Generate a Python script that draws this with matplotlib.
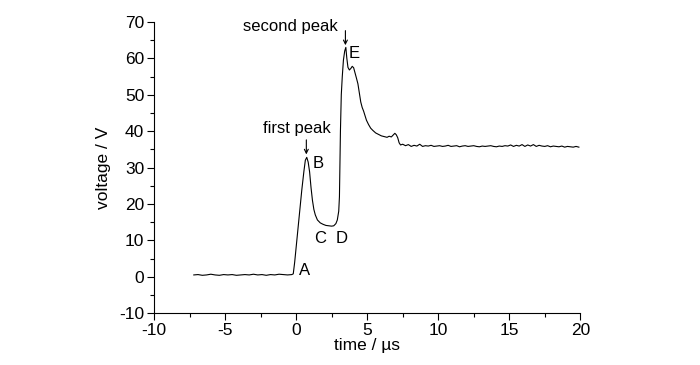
import matplotlib
matplotlib.use("Agg")
import matplotlib.pyplot as plt
from matplotlib.ticker import MultipleLocator

plt.rcParams['font.family'] = ['Liberation Sans', 'DejaVu Sans']
plt.rcParams['axes.unicode_minus'] = False

# time (µs) and voltage (V)
time_us = [-7.2, -6.9, -6.6, -6.3, -6.0, -5.7, -5.4, -5.1, -4.8, -4.5, -4.2, -3.9,
           -3.6, -3.3, -3.0, -2.7, -2.4, -2.1, -1.8, -1.5, -1.2, -0.9, -0.6, -0.3,
           -0.2, -0.1, 0.05, 0.2, 0.4, 0.55, 0.65, 0.75, 0.85, 0.95, 1.05, 1.15,
           1.25, 1.35, 1.5, 1.7, 1.9, 2.1, 2.3, 2.5, 2.65, 2.8, 2.9, 3.0, 3.05,
           3.08, 3.12, 3.18, 3.25, 3.33, 3.42, 3.5, 3.57, 3.65, 3.75, 3.85, 3.95,
           4.05, 4.15, 4.25, 4.35, 4.45, 4.55, 4.65, 4.75, 4.85, 4.95, 5.1, 5.25,
           5.4, 5.6, 5.8, 6.0, 6.2, 6.4, 6.55, 6.7, 6.85, 6.95, 7.05, 7.15, 7.25,
           7.35, 7.5, 7.7, 7.9, 8.1, 8.3, 8.5, 8.7, 8.9, 9.1, 9.3, 9.5, 9.7, 9.9,
           10.1, 10.3, 10.5, 10.7, 10.9, 11.1, 11.3, 11.5, 11.7, 11.9, 12.1, 12.3,
           12.5, 12.7, 12.9, 13.1, 13.3, 13.5, 13.7, 13.9, 14.1, 14.3, 14.5, 14.7,
           14.9, 15.1, 15.3, 15.5, 15.7, 15.9, 16.1, 16.3, 16.5, 16.7, 16.9, 17.1,
           17.3, 17.5, 17.7, 17.9, 18.1, 18.3, 18.5, 18.7, 18.9, 19.1, 19.3, 19.5,
           19.7, 19.9]
voltage_v = [0.5, 0.6, 0.4, 0.5, 0.7, 0.5, 0.4, 0.6, 0.5, 0.6, 0.4, 0.5,
             0.6, 0.5, 0.7, 0.5, 0.6, 0.4, 0.6, 0.5, 0.7, 0.6, 0.5, 0.6,
             0.8, 4.0, 10.0, 16.0, 23.8, 29.0, 32.0, 32.8, 31.5, 28.8, 24.5, 21.0,
             18.5, 17.0, 15.6, 14.8, 14.4, 14.1, 14.0, 13.9, 14.0, 14.6, 15.6, 18.0, 22.0,
             30.0, 40.0, 50.0, 55.0, 59.5, 62.0, 63.0, 60.0, 57.5, 56.8, 57.2, 57.8,
             57.4, 56.0, 54.5, 53.0, 50.5, 48.0, 46.5, 45.5, 44.2, 43.0, 41.8, 40.8,
             40.2, 39.5, 39.1, 38.7, 38.5, 38.3, 38.6, 38.4, 39.0, 39.4, 39.0, 38.2, 36.8,
             36.2, 36.4, 36.0, 36.3, 35.8, 36.1, 35.9, 36.4, 35.8, 36.0, 35.9, 36.1, 35.8, 35.9,
             36.0, 35.8, 35.9, 36.1, 35.8, 35.9, 36.0, 35.7, 35.9, 36.0, 35.8, 35.9,
             36.0, 35.8, 35.7, 35.9, 35.8, 35.9, 36.0, 35.8, 35.7, 35.9, 35.8, 36.0,
             35.9, 36.2, 35.8, 36.1, 35.9, 36.3, 35.8, 36.2, 35.9, 36.3, 35.8, 36.1,
             35.9, 35.8, 36.0, 35.7, 35.9, 35.8, 35.7, 35.9, 35.6, 35.8, 35.7, 35.6,
             35.8, 35.6]

x_ticks = [-10, -5, 0, 5, 10, 15, 20]
y_ticks = [-10, 0, 10, 20, 30, 40, 50, 60, 70]

fig = plt.figure(figsize=(7.0, 3.65), dpi=100)
ax = fig.add_axes([0.22, 0.142, 0.609, 0.798])
ax.plot(time_us, voltage_v, color='black', lw=0.8)

ax.set_xlim(-10, 20)
ax.set_ylim(-10, 70)
ax.set_xticks(x_ticks)
ax.set_yticks(y_ticks)
ax.xaxis.set_minor_locator(MultipleLocator(2.5))
ax.yaxis.set_minor_locator(MultipleLocator(5))
ax.tick_params(which='major', direction='out', length=5, width=0.8, labelsize=12.5, pad=2)
ax.tick_params(which='minor', direction='out', length=3, width=0.8)
for s in ['top', 'right']:
    ax.spines[s].set_visible(False)
for s in ['left', 'bottom']:
    ax.spines[s].set_linewidth(0.8)

ax.set_xlabel('time / µs', fontsize=12.5, labelpad=0)
ax.set_ylabel('voltage / V', fontsize=12.5, labelpad=6)

fs = 12
arrow = dict(arrowstyle='->', lw=0.8, color='black', shrinkA=0, shrinkB=0,
             mutation_scale=7)
ax.text(-0.42, 68.6, 'second peak', fontsize=fs, ha='center', va='center')
ax.annotate('', xy=(3.47, 63.6), xytext=(3.47, 67.6), arrowprops=arrow)
ax.text(4.08, 61.4, 'E', fontsize=fs, ha='center', va='center')
ax.text(0.07, 40.6, 'first peak', fontsize=fs, ha='center', va='center')
ax.annotate('', xy=(0.72, 33.6), xytext=(0.72, 37.6), arrowprops=arrow)
ax.text(1.55, 31.2, 'B', fontsize=fs, ha='center', va='center')
ax.text(1.7, 10.6, 'C', fontsize=fs, ha='center', va='center')
ax.text(3.17, 10.6, 'D', fontsize=fs, ha='center', va='center')
ax.text(0.56, 1.8, 'A', fontsize=fs, ha='center', va='center')

fig.savefig('out.png', dpi=100)
